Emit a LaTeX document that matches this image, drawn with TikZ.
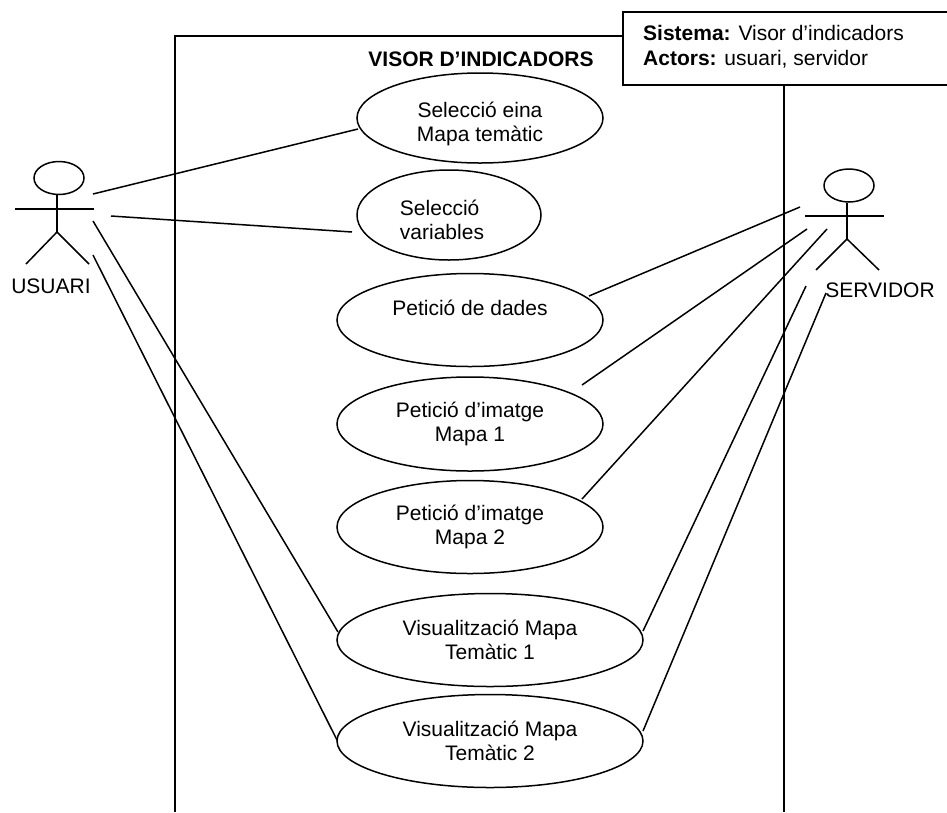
\documentclass[tikz,border=0pt]{standalone}
\usepackage{fontspec}
\setmainfont{Liberation Sans}
\usetikzlibrary{shapes.geometric}
\tikzset{
  ln/.style={line width=1.5pt,black},
  uc/.style={draw,ellipse,line width=1.5pt,black,fill=white,inner sep=0pt,minimum width=#1,align=center,font=\fontsize{21}{24}\selectfont},
  head/.style={draw,ellipse,line width=1.5pt,minimum width=50pt,minimum height=33pt,inner sep=0pt},
  lab/.style={inner sep=0pt,font=\fontsize{21}{24}\selectfont}
}
\begin{document}
\begin{tikzpicture}[x=1pt,y=-1pt]
\useasboundingbox (0,0) rectangle (947,812);
\fill[white] (0,0) rectangle (947,812);
\coordinate (bl) at (175,812);
\coordinate (tl) at (175,36);
\coordinate (tr) at (623,36);
\coordinate (br) at (784,812);
\coordinate (trt) at (784,84);
\draw[ln] (bl) -- (tl) -- (tr);
\draw[ln] (trt) -- (br);
\node[draw,line width=1.5pt,anchor=north west,minimum width=330pt,minimum height=73pt,fill=white,inner sep=0pt] (sys) at (622,11) {};
\node[anchor=west,align=left,inner sep=0pt,font=\fontsize{21}{25}\selectfont] (systxt) at (643,47) {\textbf{Sistema:} Visor d’indicadors\\\textbf{Actors:} usuari, servidor};
\node[inner sep=0pt,font=\bfseries\fontsize{21}{24}\selectfont] (title) at (481,59) {VISOR D’INDICADORS};

\node[uc=246pt,minimum height=90pt] (a) at (480,118) {\rule{0pt}{27pt}Selecció eina\\Mapa temàtic};
\node[uc=184pt,minimum height=90pt,align=left] (b) at (449,215) {\rule{0pt}{25pt}Selecció\\variables\hspace*{14pt}};
\node[uc=266pt,minimum height=93pt] (c) at (470,320) {Petició de dades\\\mbox{}};
\node[uc=266pt,minimum height=94pt] (d) at (470,424) {Petició d’imatge\\Mapa 1};
\node[uc=266pt,minimum height=93pt] (e) at (470,527) {Petició d’imatge\\Mapa 2};
\node[uc=306pt,minimum height=93pt] (f) at (490,640) {Visualització Mapa\\Temàtic 1};
\node[uc=306pt,minimum height=93pt] (g) at (490,741) {Visualització Mapa\\Temàtic 2};

% actor USUARI
\node[head] (uh) at (59,178) {};
\coordinate (uhip) at (57,232);
\coordinate (ul) at (15,209);
\coordinate (ur) at (94,209);
\coordinate (ufl) at (26,264);
\coordinate (ufr) at (89,264);
\draw[ln] (uh.south) ++(-2,0) coordinate (un) -- (uhip);
\draw[ln] (ul) -- (ur);
\draw[ln] (ufl) -- (uhip) -- (ufr);
\node[lab] (ulab) at (51,286) {USUARI};

% actor SERVIDOR
\node[head] (sh) at (849,185.5) {};
\coordinate (shipp) at (847,239);
\coordinate (sl) at (805,216);
\coordinate (sr) at (884,216);
\coordinate (sfl) at (816,270);
\coordinate (sfr) at (879,270);
\draw[ln] (sh.south) ++(-2,0) -- (shipp);
\draw[ln] (sl) -- (sr);
\draw[ln] (sfl) -- (shipp) -- (sfr);
\node[lab] (slab) at (880,290) {SERVIDOR};

% connectors
\coordinate (u1) at (93,194);
\coordinate (u2) at (111,216);
\coordinate (u3) at (93,221);
\coordinate (u4) at (93,255);
\coordinate (s1) at (800,207);
\coordinate (s2) at (807,229);
\coordinate (s3) at (827,229);
\coordinate (s4) at (806,286);
\coordinate (s5) at (826,293);
\coordinate (a1) at (358,129);
\coordinate (b1) at (352,232);
\coordinate (c1) at (589,296);
\coordinate (d1) at (582,385);
\coordinate (e1) at (582,499);
\coordinate (f1) at (338,632);
\coordinate (g1) at (337,740);
\coordinate (f2) at (643,631);
\coordinate (g2) at (643,731);
\draw[ln] (u1) -- (a1);
\draw[ln] (u2) -- (b1);
\draw[ln] (u3) -- (f1);
\draw[ln] (u4) -- (g1);
\draw[ln] (c1) -- (s1);
\draw[ln] (d1) -- (s2);
\draw[ln] (e1) -- (s3);
\draw[ln] (f2) -- (s4);
\draw[ln] (g2) -- (s5);
\end{tikzpicture}
\end{document}
